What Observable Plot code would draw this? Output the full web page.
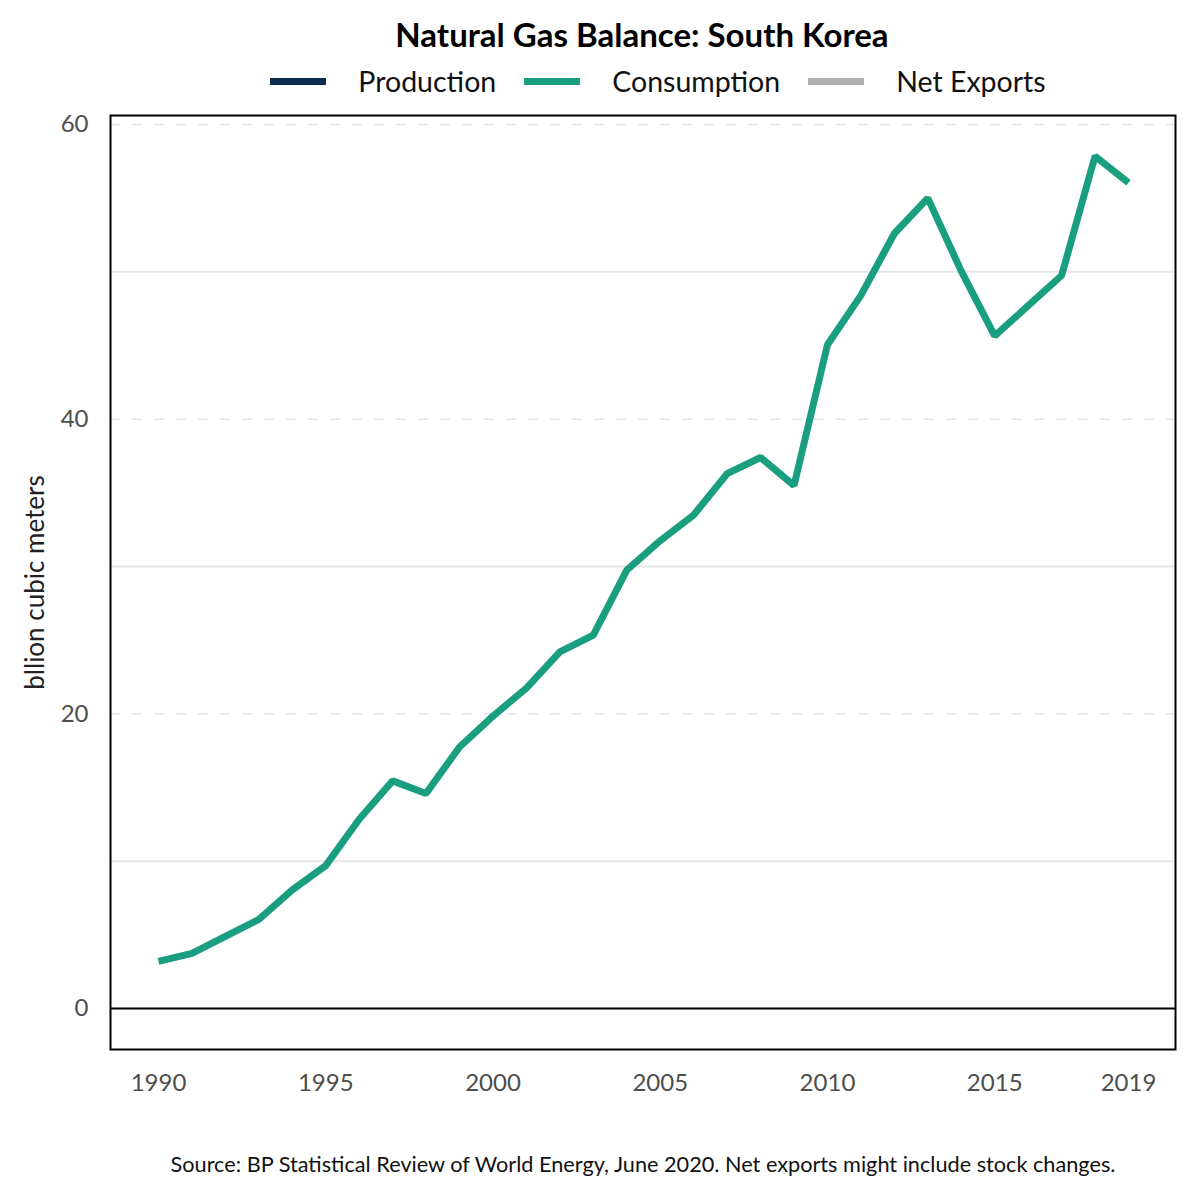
<!DOCTYPE html>
<html>
<head>
<meta charset="utf-8">
<script src="https://cdn.jsdelivr.net/npm/d3@7"></script>
<script src="https://cdn.jsdelivr.net/npm/@observablehq/plot@0.6"></script>
<style>
  html, body { margin: 0; padding: 0; background: #fff; }
  body { width: 1200px; height: 1200px; position: relative; font-family: Lato, "Open Sans", sans-serif; overflow: hidden; }
  #title { position: absolute; top: 14px; left: 0; width: 1284px; text-align: center; font-weight: 700; font-size: 33px; color: #000; }
  #legend { position: absolute; top: 64px; left: 0; width: 1316px; display: flex; justify-content: center; align-items: center; font-size: 28.5px; color: #111; }
  .item { display: flex; align-items: center; margin: 0 14px; }
  .key { width: 56px; height: 7px; margin-right: 32px; }
  #chart { position: absolute; top: 100px; left: 0; }
  #caption { position: absolute; top: 1151px; left: 0; width: 1286px; text-align: center; font-size: 21.7px; color: #111; }
</style>
</head>
<body>
<div id="title"></div>
<div id="legend"></div>
<div id="chart"></div>
<div id="caption"></div>
<script>
const titleText = "Natural Gas Balance: South Korea";
const captionText = "Source: BP Statistical Review of World Energy, June 2020. Net exports might include stock changes.";
const yLabel = "bllion cubic meters";

const seriesNames = ["Production", "Consumption", "Net Exports"];
const seriesColors = ["#0b2d4f", "#1a9e80", "#b0b0b0"];

const years = [1990,1991,1992,1993,1994,1995,1996,1997,1998,1999,2000,2001,2002,2003,2004,2005,2006,2007,2008,2009,2010,2011,2012,2013,2014,2015,2016,2017,2018,2019];
const consumption = [3.2,3.75,4.9,6.05,8.05,9.7,12.85,15.45,14.6,17.75,19.85,21.75,24.2,25.35,29.75,31.75,33.5,36.3,37.4,35.5,45.05,48.4,52.6,55.0,50.05,45.65,47.7,49.75,57.85,56.05];

const xTicks = [1990,1995,2000,2005,2010,2015,2019];
const yTicks = [0,20,40,60];
const yMinorGrid = [10,30,50];

document.getElementById("title").textContent = titleText;
document.getElementById("caption").textContent = captionText;
const legend = document.getElementById("legend");
seriesNames.forEach((n, i) => {
  const it = document.createElement("div");
  it.className = "item";
  const k = document.createElement("div");
  k.className = "key";
  k.style.background = seriesColors[i];
  const t = document.createElement("span");
  t.textContent = n;
  it.appendChild(k); it.appendChild(t);
  legend.appendChild(it);
});

const data = years.map((y, i) => ({year: y, value: consumption[i], series: "Consumption"}));

const plot = Plot.plot({
  width: 1200,
  height: 1010,
  marginTop: 15,
  marginBottom: 61,
  marginLeft: 110,
  marginRight: 25,
  style: {fontFamily: "Lato, 'Open Sans', sans-serif", background: "#fff"},
  x: {domain: [1988.565, 2020.405], label: null},
  y: {domain: [-2.78, 60.61], label: null},
  marks: [
    Plot.ruleY(yMinorGrid, {stroke: "#e6e6e6", strokeWidth: 2}),
    Plot.ruleY(yTicks.filter(d => d !== 0), {stroke: "#e3e3e3", strokeWidth: 1.5, strokeDasharray: "10,12"}),
    Plot.ruleY([0], {stroke: "#000", strokeWidth: 2}),
    Plot.line(data, {x: "year", y: "value", stroke: seriesColors[1], strokeWidth: 7, strokeLinejoin: "miter", strokeLinecap: "butt"}),
    Plot.frame({stroke: "#000", strokeWidth: 2}),
    Plot.axisX({ticks: xTicks, tickFormat: d => String(d), tickSize: 0, tickPadding: 24, fontSize: 24, fill: "#4d4d4d", label: null}),
    Plot.axisY({ticks: yTicks, tickFormat: d => String(d), tickSize: 0, tickPadding: 22, fontSize: 24, fill: "#4d4d4d", label: null}),
    Plot.text([yLabel], {frameAnchor: "left", textAnchor: "middle", dx: -75, rotate: -90, fontSize: 26, fill: "#222", text: d => d})
  ]
});
document.getElementById("chart").appendChild(plot);
</script>
</body>
</html>
